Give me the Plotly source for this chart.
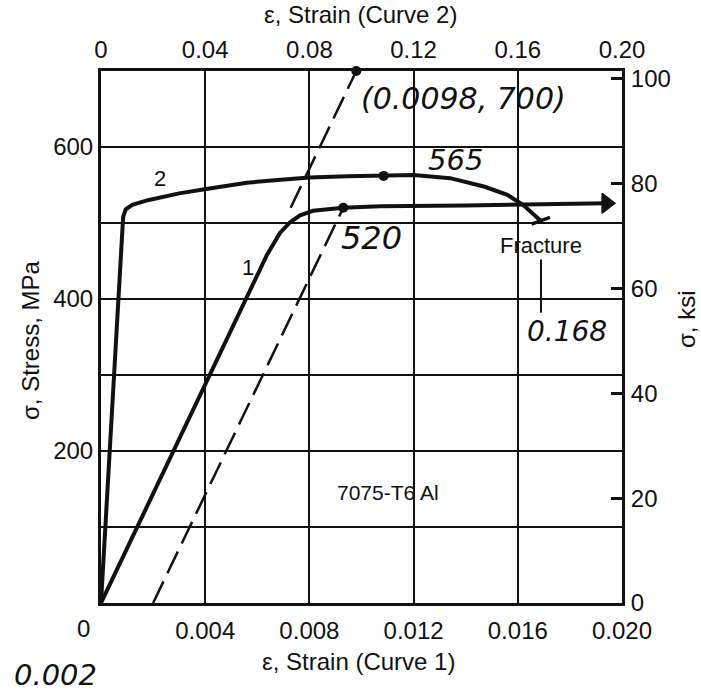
import plotly.graph_objects as go

# ---------------- data ----------------
# Curve 1: strain on bottom axis (0 - 0.020), stress in MPa
strain1 = [0, 0.0028, 0.0056, 0.0059, 0.00637, 0.00687, 0.00726, 0.00764, 0.00814,
           0.0093, 0.0107, 0.0140, 0.0170, 0.0194]
stress1 = [0, 200, 400, 422, 458, 487, 501, 510, 516, 520, 522, 523, 524.5, 526]

# Curve 2: strain on top axis (0 - 0.20), stress in MPa
strain2 = [0, 0.0085, 0.0095, 0.012, 0.018, 0.030, 0.041, 0.056, 0.069, 0.080,
           0.0945, 0.1085, 0.120, 0.134, 0.147, 0.156, 0.162, 0.1688]
stress2 = [0, 508, 518, 524, 530, 539, 545, 553, 557, 560,
           561.5, 562, 563, 559, 548, 537, 524, 503]

# 0.2 % offset line and elastic-line extension (curve 1 scale)
offset_strain = [0.002, 0.0093]
offset_stress = [0, 520]
elastic_strain = [0.00728, 0.0098]
elastic_stress = [520, 700]

# marked points
dot1_strain, dot1_stress = [0.0093, 0.0098], [520, 700]   # curve-1 scale
dot2_strain, dot2_stress = [0.1085], [562]                  # curve-2 scale

MPA_PER_KSI = 6.895

x1_ticks = [0.004, 0.008, 0.012, 0.016, 0.020]
x1_text = ["0.004", "0.008", "0.012", "0.016", "0.020"]
x2_ticks = [0, 0.04, 0.08, 0.12, 0.16, 0.20]
x2_text = ["0", "0.04", "0.08", "0.12", "0.16", "0.20"]
y_ticks = [100, 200, 300, 400, 500, 600]
y_text = ["", "200", "", "400", "", "600"]
ksi_ticks = [0, 20, 40, 60, 80, 100]
ksi_text = ["0", "20", "40", "60", "80", "100"]

FONT = "Liberation Sans"
HAND = "DejaVu Sans"
BLACK = "#111111"

fig = go.Figure()

# curve 1
fig.add_trace(go.Scatter(
    x=strain1, y=stress1, mode="lines", xaxis="x", yaxis="y",
    line=dict(color=BLACK, width=4), hoverinfo="skip", showlegend=False))
# arrow head at the end of curve 1
fig.add_trace(go.Scatter(
    x=strain1[-1:], y=stress1[-1:], mode="markers", xaxis="x", yaxis="y",
    marker=dict(symbol="triangle-right", size=17, color=BLACK, opacity=1,
                line=dict(color=BLACK, width=1.5)),
    opacity=1, cliponaxis=False, hoverinfo="skip", showlegend=False))

# curve 2
fig.add_trace(go.Scatter(
    x=strain2, y=stress2, mode="lines", xaxis="x2", yaxis="y",
    line=dict(color=BLACK, width=4), hoverinfo="skip", showlegend=False))

# fracture tick at the end of curve 2
fig.add_trace(go.Scatter(
    x=strain2[-1:], y=stress2[-1:], mode="markers", xaxis="x2", yaxis="y",
    marker=dict(symbol="line-ew", size=14, angle=-20,
                line=dict(color=BLACK, width=3.5)),
    hoverinfo="skip", showlegend=False))

# dashed lines
for xs, ys in [(offset_strain, offset_stress), (elastic_strain, elastic_stress)]:
    fig.add_trace(go.Scatter(
        x=xs, y=ys, mode="lines", xaxis="x", yaxis="y",
        line=dict(color=BLACK, width=2.5, dash="24px,9px"),
        hoverinfo="skip", showlegend=False))

# dots
fig.add_trace(go.Scatter(
    x=dot1_strain, y=dot1_stress, mode="markers", xaxis="x", yaxis="y",
    marker=dict(color=BLACK, size=10), cliponaxis=False,
    hoverinfo="skip", showlegend=False))
fig.add_trace(go.Scatter(
    x=dot2_strain, y=dot2_stress, mode="markers", xaxis="x2", yaxis="y",
    marker=dict(color=BLACK, size=10), hoverinfo="skip", showlegend=False))

# invisible trace to carry the ksi axis
fig.add_trace(go.Scatter(
    x=strain1, y=[s / MPA_PER_KSI for s in stress1], mode="lines",
    xaxis="x", yaxis="y2", line=dict(width=0, color="rgba(0,0,0,0)"),
    hoverinfo="skip", showlegend=False))

tickfont = dict(family=FONT, size=24, color=BLACK)

fig.update_layout(
    width=701, height=691,
    margin=dict(l=101, r=79, t=71, b=88),
    paper_bgcolor="white", plot_bgcolor="white",
    xaxis=dict(range=[0, 0.020], tickvals=x1_ticks, ticktext=x1_text,
               showgrid=True, gridcolor=BLACK, gridwidth=2,
               showline=True, linecolor=BLACK, linewidth=3,
               ticks="", tickfont=tickfont, ticklabelstandoff=4,
               zeroline=False),
    xaxis2=dict(range=[0, 0.20], tickvals=x2_ticks, ticktext=x2_text,
                overlaying="x", side="top", anchor="y",
                showgrid=False, showline=True, linecolor=BLACK, linewidth=3,
                ticks="", tickfont=tickfont, ticklabelstandoff=0,
                zeroline=False),
    yaxis=dict(range=[0, 700], tickvals=y_ticks, ticktext=y_text,
               showgrid=True, gridcolor=BLACK, gridwidth=2,
               showline=True, linecolor=BLACK, linewidth=3,
               ticks="", tickfont=tickfont, ticklabelstandoff=0,
               zeroline=False),
    yaxis2=dict(range=[0, 700 / MPA_PER_KSI], tickvals=ksi_ticks, ticktext=ksi_text,
                overlaying="y", side="right", anchor="x",
                showgrid=False, showline=True, linecolor=BLACK, linewidth=3,
                ticks="inside", ticklen=11, tickwidth=2.5, tickcolor=BLACK,
                tickfont=tickfont, ticklabelstandoff=1, zeroline=False),
    showlegend=False,
)


def txt(text, x, y, size=24, xref="x", yref="y", family=FONT, angle=0,
        style="normal", weight=None):
    f = dict(family=family, size=size, color=BLACK, style=style)
    if weight is not None:
        f["weight"] = weight
    fig.add_annotation(text=text, x=x, y=y, xref=xref, yref=yref, showarrow=False,
                       xanchor="center", yanchor="middle",
                       textangle=angle, font=f)


def px(xp, yp):
    """pixel position in the 701x691 page -> paper coordinates"""
    return (xp - 101) / 521, (603 - yp) / 532


# axis titles
txt("ε, Strain (Curve 2)", *px(360, 15), xref="paper", yref="paper")
txt("ε, Strain (Curve 1)", *px(358, 661), xref="paper", yref="paper")
txt("σ, Stress, MPa", *px(30, 340), xref="paper", yref="paper", angle=-90)
txt("σ, ksi", *px(686, 320), xref="paper", yref="paper", angle=-90)
txt("0", *px(83, 628), xref="paper", yref="paper")

# printed labels
txt("2", 0.00226, 559, size=22)
txt("1", 0.00564, 441, size=22)
txt("7075-T6 Al", 0.01102, 146, size=21)
txt("Fracture", 0.01689, 470, size=22)

# handwritten labels
txt("(0.0098, 700)", 0.0139, 664, size=30, family=HAND, style="italic", weight=200)
txt("565", 0.0136, 583, size=29, family=HAND, style="italic", weight=200)
txt("520", 0.01037, 480, size=32, family=HAND, style="italic", weight=200)
txt("0.168", 0.01789, 357, size=28, family=HAND, style="italic", weight=200)
txt("0.002", *px(55, 675), xref="paper", yref="paper",
    size=29, family=HAND, style="italic", weight=200)

# leader line under "Fracture"
fig.add_shape(type="line", x0=0.01689, x1=0.01689, y0=452, y1=382,
              xref="x", yref="y", line=dict(color=BLACK, width=2))

# arrow pointing to 0.002 on the strain axis
fig.add_annotation(x=offset_strain[0], y=-15, xref="x", yref="y",
                   ax=-14, ay=44, showarrow=True, arrowhead=2, arrowsize=1,
                   arrowwidth=1.6, arrowcolor=BLACK, text="")

fig.write_html("out.html")
